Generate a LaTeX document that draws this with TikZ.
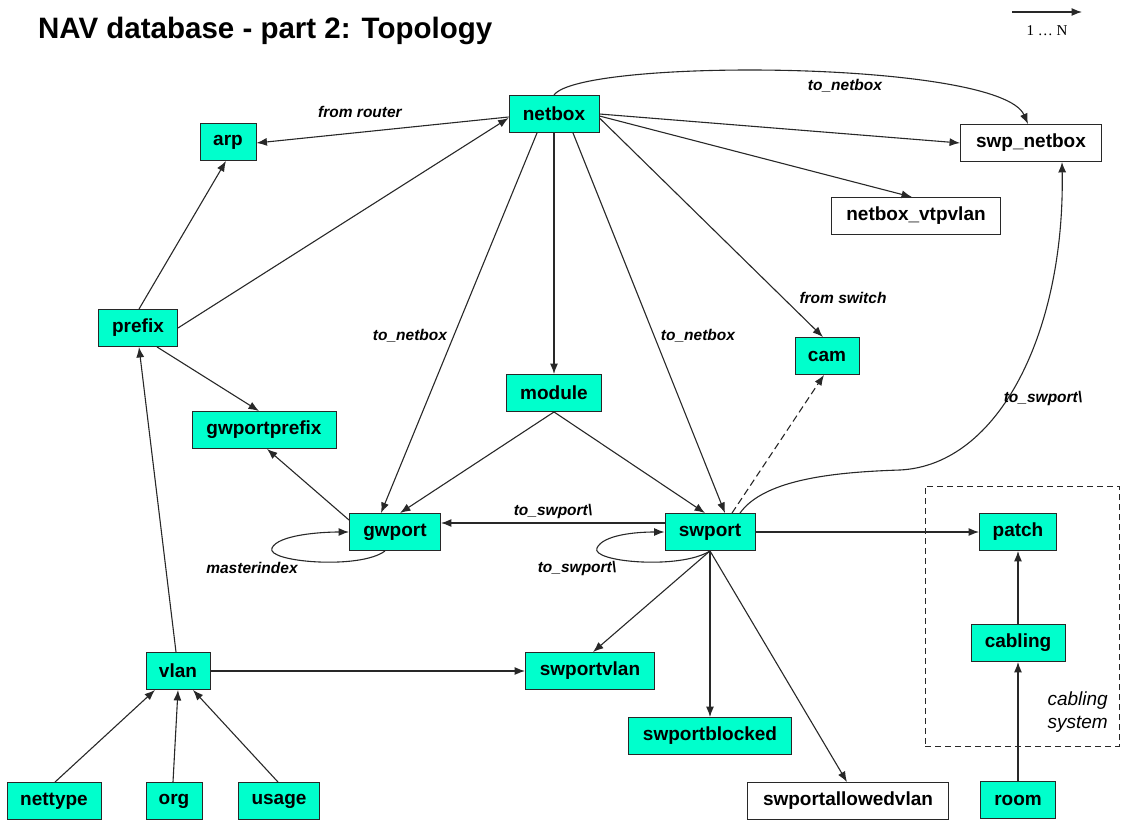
\documentclass[tikz,border=0pt]{standalone}
\usepackage{fontspec}
\setmainfont{Liberation Sans}
\newfontfamily\legendfont{Liberation Serif}
\usetikzlibrary{arrows.meta,calc}
\definecolor{turq}{RGB}{0,255,204}
\definecolor{edgegray}{RGB}{40,40,40}
\tikzset{
  tbl/.style={draw=edgegray, line width=0.9pt, fill=turq, minimum height=37pt,
    inner sep=0pt, font=\bfseries\fontsize{19}{22}\selectfont},
  plaintbl/.style={tbl, fill=white},
  link/.style={draw=edgegray, line width=1.1pt, -{Latex[length=10.5pt,width=8pt]}},
  rel/.style={font=\bfseries\itshape\fontsize{15.5}{18}\selectfont, inner sep=0pt},
}
\begin{document}
\begin{tikzpicture}[x=1pt,y=-1pt]
\useasboundingbox (0,0) rectangle (1122,821);

% title and legend
\node[anchor=base west, inner sep=0pt, font=\bfseries\fontsize{29.5}{34}\selectfont] (title) at (38,39) {NAV database - part 2: Topology};
\coordinate (lgA) at (1012,12);
\coordinate (lgB) at (1082,12);
\draw[link] (lgA) -- (lgB);
\node[inner sep=0pt, font=\legendfont\fontsize{15}{18}\selectfont] (lgtext) at (1047,31) {1 … N};

% cabling system frame
\node[draw=edgegray, line width=0.9pt, dash pattern=on 6pt off 4pt, minimum width=194pt, minimum height=260pt, inner sep=0pt] (cablingsys) at (1022,616) {};
\node[anchor=east, align=right, inner sep=0pt, font=\itshape\fontsize{19}{23}\selectfont] (cablingtxt) at (1108,712) {cabling\\system};

% tables
\node[tbl, minimum width=90pt] (netbox) at (554,114) {netbox};
\node[tbl, minimum width=56pt] (arp) at (228,142) {arp};
\node[plaintbl, minimum width=141pt] (swpnetbox) at (1031,143) {swp\_netbox};
\node[plaintbl, minimum width=169pt] (vtpvlan) at (916,216) {netbox\_vtpvlan};
\node[tbl, minimum width=79pt] (prefix) at (138,328) {prefix};
\node[tbl, minimum width=144pt] (gwportprefix) at (264,430) {gwportprefix};
\node[tbl, minimum width=95pt] (module) at (554,393) {module};
\node[tbl, minimum width=64pt] (cam) at (827,356) {cam};
\node[tbl, minimum width=91pt] (gwport) at (395,532) {gwport};
\node[tbl, minimum width=90pt] (swport) at (710,532) {swport};
\node[tbl, minimum width=77pt] (patch) at (1018,532) {patch};
\node[tbl, minimum width=94pt] (cabling) at (1018,643) {cabling};
\node[tbl, minimum width=75pt] (room) at (1018,800) {room};
\node[tbl, minimum width=64pt] (vlan) at (178,671) {vlan};
\node[tbl, minimum width=94pt] (nettype) at (54,801) {nettype};
\node[tbl, minimum width=56pt] (org) at (174,801) {org};
\node[tbl, minimum width=81pt] (usage) at (279,801) {usage};
\node[tbl, minimum width=129pt] (swportvlan) at (590,671) {swportvlan};
\node[tbl, minimum width=163pt] (swportblocked) at (710,736) {swportblocked};
\node[plaintbl, minimum width=201pt] (swportallowed) at (848,801) {swportallowedvlan};

% relations from netbox
\draw[link] ($(netbox.west)+(0,3)$) -- ($(arp.east)+(0,1)$);
\draw[link] (prefix.east) -- ($(netbox.west)+(0,4)$);
\draw[link] ($(netbox.south)+(-17,0)$) -- ($(gwport.north)+(-14,0)$);
\draw[link] (netbox.south) -- (module.north);
\draw[link] ($(netbox.south)+(19,0)$) -- ($(swport.north)+(15,0)$);
\draw[link] ($(netbox.east)+(0,4)$) -- ($(cam.north)+(-4,0)$);
\draw[link] ($(netbox.east)+(0,2)$) -- ($(vtpvlan.north)+(-4,0)$);
\draw[link] (netbox.east) -- ($(swpnetbox.west)+(0,0)$);
\draw[link] (netbox.north) .. controls (580,58) and (1000,60) .. ($(swpnetbox.north)+(-3,0)$);

% prefix and gwport
\draw[link] ($(prefix.north)+(1,0)$) -- ($(arp.south)+(-2,0)$);
\draw[link] ($(prefix.south)+(19,0)$) -- ($(gwportprefix.north)+(-5,0)$);
\draw[link] ($(gwport.north west)+(0,7)$) -- ($(gwportprefix.south)+(3,0)$);
\draw[link] ($(vlan.north)+(-2,0)$) -- ($(prefix.south)+(1,0)$);

% module
\draw[link] (module.south) -- ($(gwport.north)+(5,0)$);
\draw[link] (module.south) -- ($(swport.north)+(-5,0)$);

% swport
\draw[link, dash pattern=on 7pt off 4pt] ($(swport.north)+(22,0)$) -- ($(cam.south)+(-3,0)$);
\draw[link] ($(swport.north)+(30,0)$) .. controls (765,478) and (840,472) .. (900,470)
   .. controls (1000,465) and (1065,330) .. ($(swpnetbox.south)+(31,0)$);
\draw[link] ($(swport.west)+(0,-9)$) -- ($(gwport.east)+(0,-9)$);
\draw[link] (swport.east) -- (patch.west);
\draw[link] (swport.south) -- ($(swportvlan.north)+(3,0)$);
\draw[link] (swport.south) -- (swportblocked.north);
\draw[link] (swport.south) -- ($(swportallowed.north)+(-1,0)$);

% self references
\draw[link] ($(gwport.south)+(-10,0)$) .. controls (360,570) and (265,562) .. (272,548)
   .. controls (278,535) and (320,532) .. (gwport.west);
\draw[link] (swport.south) .. controls (680,570) and (590,562) .. (597,548)
   .. controls (603,535) and (635,532) .. (swport.west);

% cabling system
\draw[link] (cabling.north) -- (patch.south);
\draw[link] (room.north) -- (cabling.south);

% vlan
\draw[link] (vlan.east) -- (swportvlan.west);
\draw[link] ($(nettype.north)+(1,0)$) -- ($(vlan.south)+(-23,0)$);
\draw[link] ($(org.north)+(-1,0)$) -- (vlan.south);
\draw[link] ($(usage.north)+(-1,0)$) -- ($(vlan.south)+(15,0)$);

% relation labels
\node[rel] (lblrouter) at (360,112) {from router};
\node[rel] (lblnbtop) at (845,86) {to\_netbox};
\node[rel] (lblnbgw) at (410,336) {to\_netbox};
\node[rel] (lblnbsw) at (698,336) {to\_netbox};
\node[rel] (lblswitch) at (843,298) {from switch};
\node[rel] (lblswtop) at (1043,398) {to\_swport\textbackslash};
\node[rel] (lblswgw) at (553,511) {to\_swport\textbackslash};
\node[rel] (lblmaster) at (252,568) {masterindex};
\node[rel] (lblswself) at (577,568) {to\_swport\textbackslash};
\end{tikzpicture}
\end{document}
